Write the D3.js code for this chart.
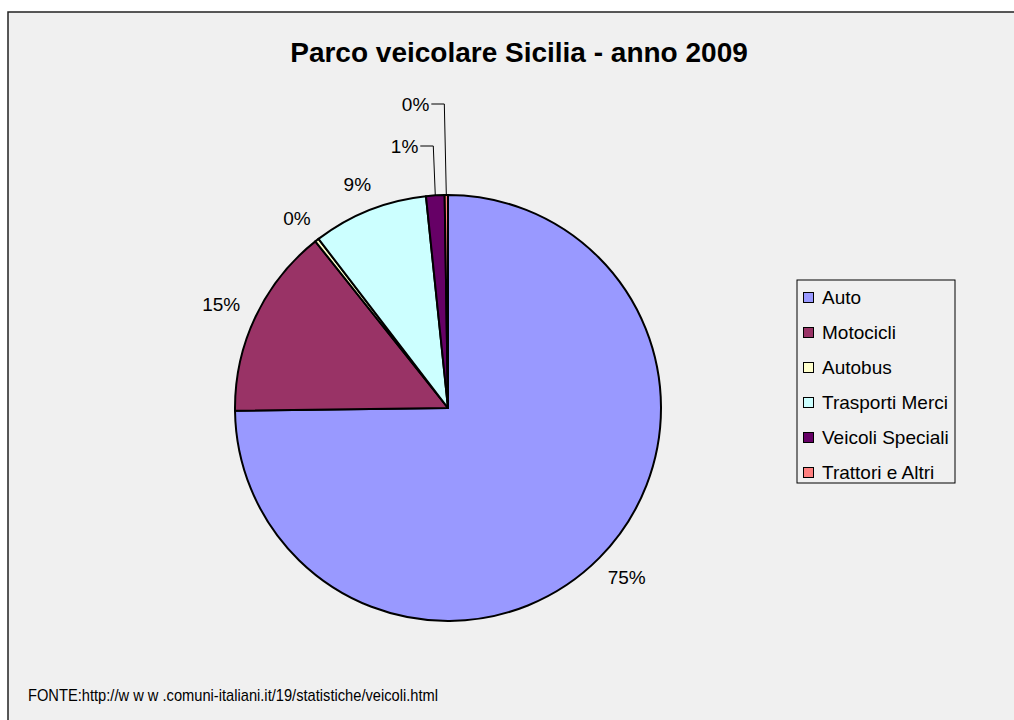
<!DOCTYPE html>
<html>
<head>
<meta charset="utf-8">
<script src="https://cdn.jsdelivr.net/npm/d3@7"></script>
<style>
  html, body { margin: 0; padding: 0; background: #ffffff; }
  svg { display: block; font-family: Arial, "Liberation Sans", sans-serif; }
</style>
</head>
<body>
<svg id="chart" width="1014" height="720"></svg>
<script>
// ---- data ----
const title = "Parco veicolare Sicilia - anno 2009";
const categories = ["Auto", "Motocicli", "Autobus", "Trasporti Merci", "Veicoli Speciali", "Trattori e Altri"];
const values = [74.8, 14.5, 0.3, 8.75, 1.4, 0.25];            // share of vehicles (%)
const valueLabels = ["75%", "15%", "0%", "9%", "1%", "0%"];
const colors = ["#9999FF", "#993366", "#FFFFCC", "#CCFFFF", "#660066", "#FF8080"];
const leaderSlices = ["Veicoli Speciali", "Trattori e Altri"]; // labels pulled out with leader lines
const sourceNote = "FONTE:http://w w w .comuni-italiani.it/19/statistiche/veicoli.html";

// ---- layout ----
const W = 1014, H = 720;
const svg = d3.select("#chart");
const bg = "#f0f0f0";

svg.append("rect").attr("x", 8).attr("y", 12).attr("width", W + 10).attr("height", H + 10)
  .attr("fill", bg).attr("stroke", "#222").attr("stroke-width", 1.5);

svg.append("text").attr("x", 519).attr("y", 62).attr("text-anchor", "middle")
  .attr("font-size", 28).attr("font-weight", "bold").attr("fill", "#000").text(title);

const cx = 448, cy = 408, r = 213;
const g = svg.append("g").attr("transform", `translate(${cx},${cy})`);

const data = categories.map((c, i) => ({ name: c, value: values[i], label: valueLabels[i], color: colors[i] }));
const pie = d3.pie().value(d => d.value).sort(null).startAngle(0).endAngle(2 * Math.PI);
const arcs = pie(data);
const arc = d3.arc().innerRadius(0).outerRadius(r);

g.selectAll("path.slice").data(arcs).enter().append("path")
  .attr("class", "slice")
  .attr("d", arc)
  .attr("fill", d => d.data.color)
  .attr("stroke", "#000")
  .attr("stroke-width", 2)
  .attr("stroke-linejoin", "round");

// labels
const fs = 19;
const d0 = 21;
let leaderIdx = 0;
arcs.forEach(a => {
  const mid = (a.startAngle + a.endAngle) / 2;
  const sx = Math.sin(mid), sy = -Math.cos(mid);
  if (leaderSlices.includes(a.data.name)) {
    const ex = sx * r, ey = sy * r;
    const ly = -r - 49 - 42 * leaderIdx;
    leaderIdx++;
    g.append("polyline")
      .attr("points", `${ex - 15},${ly} ${ex - 2},${ly} ${ex},${ey}`)
      .attr("fill", "none").attr("stroke", "#000").attr("stroke-width", 1);
    g.append("text").attr("x", ex - 17).attr("y", ly).attr("dy", "0.35em")
      .attr("text-anchor", "end").attr("font-size", fs).attr("fill", "#000").text(a.data.label);
  } else {
    const ax = sx * (r + d0), ay = sy * (r + d0);
    const tw = a.data.label.length * 0.6 * fs; // approximate box
    const th = 14;
    const tx = ax + sx * tw / 2, ty = ay + sy * th / 2;
    g.append("text").attr("x", tx).attr("y", ty).attr("dy", "0.35em")
      .attr("text-anchor", "middle").attr("font-size", fs).attr("fill", "#000").text(a.data.label);
  }
});

// legend
const lg = svg.append("g");
lg.append("rect").attr("x", 797).attr("y", 280).attr("width", 158).attr("height", 203)
  .attr("fill", bg).attr("stroke", "#000").attr("stroke-width", 1);
const rowY = d3.scalePoint().domain(categories).range([297, 472]);
categories.forEach((c, i) => {
  const y = rowY(c);
  lg.append("rect").attr("x", 803.5).attr("y", y - 4.5).attr("width", 10).attr("height", 10)
    .attr("fill", colors[i]).attr("stroke", "#000").attr("stroke-width", 1);
  lg.append("text").attr("x", 822).attr("y", y).attr("dy", "0.35em")
    .attr("font-size", fs).attr("fill", "#000").text(c);
});

svg.append("text").attr("x", 28).attr("y", 701).attr("font-size", 17).attr("fill", "#000")
  .attr("textLength", 410).attr("lengthAdjust", "spacingAndGlyphs")
  .text(sourceNote);
</script>
</body>
</html>
